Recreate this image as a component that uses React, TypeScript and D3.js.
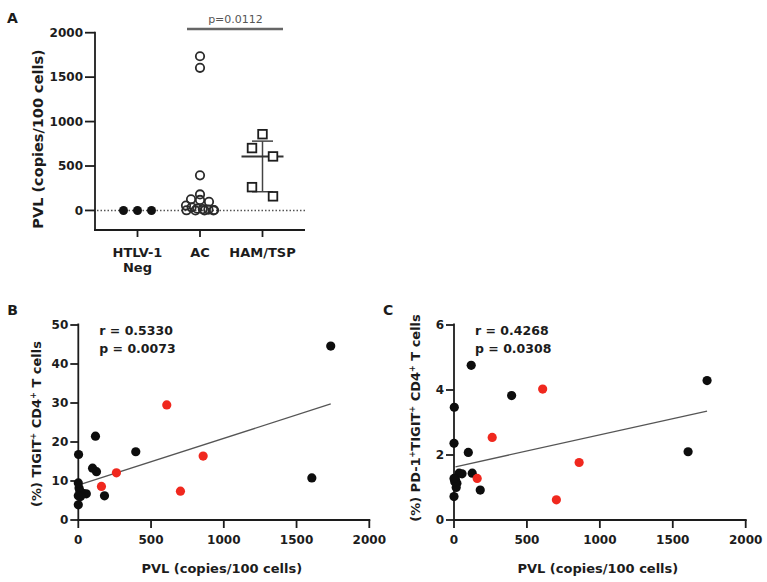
import React from 'react';
import * as d3 from 'd3';

// Panel A groups
const groupNames = ['HTLV-1', 'AC', 'HAM/TSP'];
const negPvl = [0, 0, 0];
const acPvl = [1735, 1605, 395, 180, 125, 118, 98, 55, 35, 20, 15, 10, 5, 2, 0, 0, 0];
const hamPvl = [858, 702, 608, 262, 159];
const yTicksA = [0, 500, 1000, 1500, 2000];
const pLabelA = 'p=0.0112';

// Panel B: % TIGIT+ CD4+ T cells
const tigitAc = [44.6, 10.8, 17.5, 6.2, 12.4, 21.5, 13.3, 6.7, 6.8, 7.0, 6.0, 7.5, 8.2, 16.8, 9.5, 6.2, 3.9];
const tigitHam = [16.4, 7.4, 29.5, 12.1, 8.6];
const tigitFit = [8.98, 0.01197]; // intercept, slope
const statsB = ['r = 0.5330', 'p = 0.0073'];
const yTicksB = [0, 10, 20, 30, 40, 50];

// Panel C: % PD-1+TIGIT+ CD4+ T cells
const pdAc = [4.29, 2.10, 3.83, 0.92, 1.44, 4.76, 2.08, 1.42, 1.44, 1.13, 1.0, 1.25, 1.18, 3.47, 2.36, 1.28, 0.72];
const pdHam = [1.77, 0.62, 4.03, 2.54, 1.28];
const pdFit = [1.626, 0.000994];
const statsC = ['r = 0.4268', 'p = 0.0308'];
const yTicksC = [0, 2, 4, 6];

const xTicksPvl = [0, 500, 1000, 1500, 2000];

const FONT = '"DejaVu Sans", sans-serif';
const INK = '#1c1c1c';
const RED = '#f0281e';

// GraphPad-ish column scatter: group near values, spread each group symmetrically
function swarm(values: number[], y: (v: number) => number, h: number, sMax: number, maxW: number) {
  const sorted = values.map((v, i) => ({ v, i })).sort((a, b) => b.v - a.v);
  const groups: { v: number; i: number }[][] = [];
  sorted.forEach(p => {
    const g = groups[groups.length - 1];
    if (g && Math.abs(y(p.v) - y(g[0].v)) < h) g.push(p);
    else groups.push([p]);
  });
  const out: { v: number; dx: number }[] = [];
  groups.forEach(g => {
    const k = g.length;
    const s = k > 1 ? Math.min(sMax, maxW / (k - 1)) : 0;
    g.forEach((p, j) => out.push({ v: p.v, dx: (j - (k - 1) / 2) * s }));
  });
  return out;
}

// quartiles like GraphPad, rank = (n+1)p
function quart(values: number[], p: number) {
  const s = [...values].sort((a, b) => a - b);
  const r = (s.length + 1) * p - 1;
  const lo = Math.floor(r), hi = Math.ceil(r);
  return s[lo] + (s[hi] - s[lo]) * (r - lo);
}

const PanelA = () => {
  const x = d3.scalePoint().domain(groupNames).range([95, 305]).padding(0.68);
  const y = d3.scaleLinear().domain([-220, 2000]).range([230, 32.7]);
  const y0 = y(0);
  const neg = swarm(negPvl, y, 12, 14, 30);
  const ac = swarm(acPvl, y, 4.5, 9, 28);
  const ham = swarm(hamPvl, y, 12, 21, 30);
  const med = quart(hamPvl, 0.5), q1 = quart(hamPvl, 0.25), q3 = quart(hamPvl, 0.75);
  const cx = (g: string) => x(g) as number;
  return (
    <g fontFamily={FONT} fill={INK}>
      <text x={7} y={23} fontSize={14} fontWeight="bold">A</text>
      <text transform={`translate(43,139) rotate(-90)`} textAnchor="middle" fontSize={14.5} fontWeight="bold">PVL (copies/100 cells)</text>
      {/* zero line */}
      <line x1={97} x2={305} y1={y0} y2={y0} stroke="#555" strokeWidth={1.6} strokeDasharray="1.5,2" />
      {/* axes */}
      <line x1={95} x2={95} y1={y(2000) - 1} y2={231} stroke={INK} strokeWidth={1.8} />
      <line x1={94} x2={305} y1={230} y2={230} stroke={INK} strokeWidth={1.8} />
      {yTicksA.map(t => (
        <g key={t}>
          <line x1={85} x2={95} y1={y(t)} y2={y(t)} stroke={INK} strokeWidth={1.8} />
          <text x={83} y={y(t)} dy="0.36em" textAnchor="end" fontSize={12} fontWeight="bold">{t}</text>
        </g>
      ))}
      {groupNames.map(g => (
        <line key={g} x1={cx(g)} x2={cx(g)} y1={230} y2={237} stroke={INK} strokeWidth={1.8} />
      ))}
      <text x={cx('HTLV-1')} y={256.5} textAnchor="middle" fontSize={13} fontWeight="bold">HTLV-1</text>
      <text x={cx('HTLV-1')} y={272} textAnchor="middle" fontSize={13} fontWeight="bold">Neg</text>
      <text x={cx('AC')} y={256.5} textAnchor="middle" fontSize={13} fontWeight="bold">AC</text>
      <text x={cx('HAM/TSP')} y={256.5} textAnchor="middle" fontSize={13} fontWeight="bold">HAM/TSP</text>
      {/* significance bar */}
      <line x1={187} x2={283} y1={29} y2={29} stroke="#666" strokeWidth={2.5} />
      <text x={235.5} y={22.5} textAnchor="middle" fontSize={11} fill="#555">{pLabelA}</text>
      {/* points */}
      {neg.map((p, i) => (
        <circle key={i} cx={cx('HTLV-1') + p.dx} cy={y(p.v)} r={4.5} fill="#111" />
      ))}
      {ac.map((p, i) => (
        <circle key={i} cx={cx('AC') + p.dx} cy={y(p.v)} r={4.2} fill="none" stroke="#2a2a2a" strokeWidth={1.8} />
      ))}
      {/* median + IQR */}
      <line x1={cx('HAM/TSP')} x2={cx('HAM/TSP')} y1={y(q1)} y2={y(q3)} stroke="#444" strokeWidth={1.5} />
      <line x1={cx('HAM/TSP') - 21} x2={cx('HAM/TSP') + 21} y1={y(med)} y2={y(med)} stroke="#333" strokeWidth={2} />
      <line x1={cx('HAM/TSP') - 10.5} x2={cx('HAM/TSP') + 10.5} y1={y(q1)} y2={y(q1)} stroke="#444" strokeWidth={1.5} />
      <line x1={cx('HAM/TSP') - 10.5} x2={cx('HAM/TSP') + 10.5} y1={y(q3)} y2={y(q3)} stroke="#444" strokeWidth={1.5} />
      {ham.map((p, i) => (
        <rect key={i} x={cx('HAM/TSP') + p.dx - 4.3} y={y(p.v) - 4.3} width={8.6} height={8.6} fill="#fff" stroke="#1e1e1e" strokeWidth={1.8} />
      ))}
    </g>
  );
};

type ScatterProps = {
  label: string;
  x0: number; x1: number;
  yMax: number; yTicks: number[];
  acY: number[]; hamY: number[];
  fit: number[]; stats: string[];
  title: React.ReactNode; titleX: number; titleY: number;
};

const Scatter = ({ label, x0, x1, yMax, yTicks, acY, hamY, fit, stats, title, titleX, titleY }: ScatterProps) => {
  const x = d3.scaleLinear().domain([0, 2000]).range([x0, x1]);
  const y = d3.scaleLinear().domain([0, yMax]).range([520, 325]);
  const all = acPvl.concat(hamPvl);
  const [lo, hi] = d3.extent(all) as [number, number];
  const fitLine = d3.line<number>().x(d => x(d)).y(d => y(fit[0] + fit[1] * d));
  return (
    <g fontFamily={FONT} fill={INK}>
      <text x={x0 - 71} y={315} fontSize={14} fontWeight="bold">{label}</text>
      <text transform={`translate(${titleX},${titleY}) rotate(-90)`} textAnchor="middle" fontSize={13} fontWeight="bold">{title}</text>
      <line x1={x0} x2={x0} y1={323.5} y2={521} stroke={INK} strokeWidth={1.8} />
      <line x1={x0 - 1} x2={x(2000) + 1} y1={520} y2={520} stroke={INK} strokeWidth={1.8} />
      {yTicks.map(t => (
        <g key={t}>
          <line x1={x0 - 8} x2={x0} y1={y(t)} y2={y(t)} stroke={INK} strokeWidth={1.8} />
          <text x={x0 - 10} y={y(t)} dy="0.36em" textAnchor="end" fontSize={12} fontWeight="bold">{t}</text>
        </g>
      ))}
      {xTicksPvl.map(t => (
        <g key={t}>
          <line x1={x(t)} x2={x(t)} y1={520} y2={528} stroke={INK} strokeWidth={1.8} />
          <text x={x(t)} y={544} textAnchor="middle" fontSize={12} fontWeight="bold">{t}</text>
        </g>
      ))}
      <text x={(x0 + x1) / 2 - 2} y={573} textAnchor="middle" fontSize={13} fontWeight="bold">PVL (copies/100 cells)</text>
      <text x={x0 + 21} y={335} fontSize={12.5} fontWeight="bold">{stats[0]}</text>
      <text x={x0 + 21} y={353} fontSize={12.5} fontWeight="bold">{stats[1]}</text>
      <path d={fitLine([lo + 10, hi]) || ''} fill="none" stroke="#555" strokeWidth={1.3} />
      {acPvl.map((v, i) => (
        <circle key={'a' + i} cx={x(v)} cy={y(acY[i])} r={4.6} fill="#0d0d0d" />
      ))}
      {hamPvl.map((v, i) => (
        <circle key={'h' + i} cx={x(v)} cy={y(hamY[i])} r={4.6} fill={RED} />
      ))}
    </g>
  );
};

const sup = (s: string) => (
  <tspan dy={-5} fontSize={8}>{s}</tspan>
);

export default function App() {
  return (
    <svg width={767} height={582} style={{ position: 'absolute', left: 0, top: 0, background: '#fff' }}>
      <PanelA />
      <Scatter
        label="B" x0={78.3} x1={369.3} yMax={50} yTicks={yTicksB}
        acY={tigitAc} hamY={tigitHam} fit={tigitFit} stats={statsB}
        titleX={41} titleY={424}
        title={<>(%) TIGIT{sup('+')}<tspan dy={5}> CD4</tspan>{sup('+')}<tspan dy={5}> T cells</tspan></>}
      />
      <Scatter
        label="C" x0={454} x1={745.7} yMax={6} yTicks={yTicksC}
        acY={pdAc} hamY={pdHam} fit={pdFit} stats={statsC}
        titleX={420} titleY={418}
        title={<>(%) PD-1{sup('+')}<tspan dy={5}>TIGIT</tspan>{sup('+')}<tspan dy={5}> CD4</tspan>{sup('+')}<tspan dy={5}> T cells</tspan></>}
      />
    </svg>
  );
}
